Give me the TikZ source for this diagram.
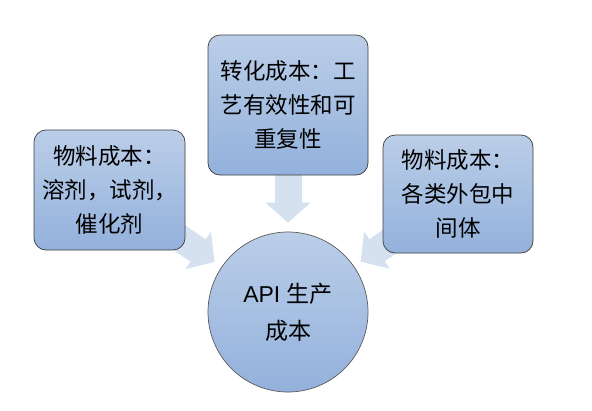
\documentclass[tikz,border=0pt]{standalone}
\usepackage{fontspec}
\setmainfont{Liberation Sans}
\newfontfamily\cjk{Noto Sans CJK SC}
\usetikzlibrary{arrows.meta,positioning,backgrounds}
\definecolor{boxtop}{RGB}{187, 206, 232}
\definecolor{boxbottom}{RGB}{147, 177, 220}
\definecolor{boxborder}{RGB}{62, 62, 62}
\definecolor{ringborder}{RGB}{90, 90, 90}
\definecolor{flowfill}{RGB}{214, 225, 240}

\begin{document}
\begin{tikzpicture}[
  x=1pt, y=-1pt,
  cost/.style={
    draw=boxborder,
    line width=0.7pt,
    rounded corners=12pt,
    top color=boxtop,
    bottom color=boxbottom,
    inner sep=0pt,
    align=center,
    font=\cjk\fontsize{22.5}{34}\selectfont
  },
  target/.style={
    circle,
    draw=ringborder,
    line width=0.7pt,
    top color=boxtop,
    bottom color=boxbottom,
    minimum size=160pt,
    inner sep=0pt,
    align=center,
    font=\fontsize{23}{37}\selectfont
  },
  flow/.style={
    draw=flowfill,
    line width=27pt,
    -{Triangle[length=20pt,width=44pt]},
    shorten <=-10pt
  }
]
  \useasboundingbox (0,0) rectangle (592,410);

  % Cost sources
  \node[cost, minimum width=160pt, minimum height=140pt] (conv) at (288,105) {转化成本：工\\艺有效性和可\\重复性};
  \node[cost, minimum width=151pt, minimum height=120pt] (mat) at (109.5,190) {物料成本：\\溶剂，试剂，\\催化剂};
  \node[cost, minimum width=150pt, minimum height=118pt] (outs) at (458,194) {物料成本：\\各类外包中\\间体};

  % Production cost
  \node[target] (api) at (288,312) {API~{\cjk 生产}\\{\cjk 成本}};

  \begin{scope}[on background layer]
    \draw[flow, shorten >=9pt] (conv) -- (api);
    \draw[flow, shorten >=8.5pt] (mat) -- (api);
    \draw[flow, shorten >=8pt] (outs) -- (api);
  \end{scope}

\end{tikzpicture}
\end{document}
